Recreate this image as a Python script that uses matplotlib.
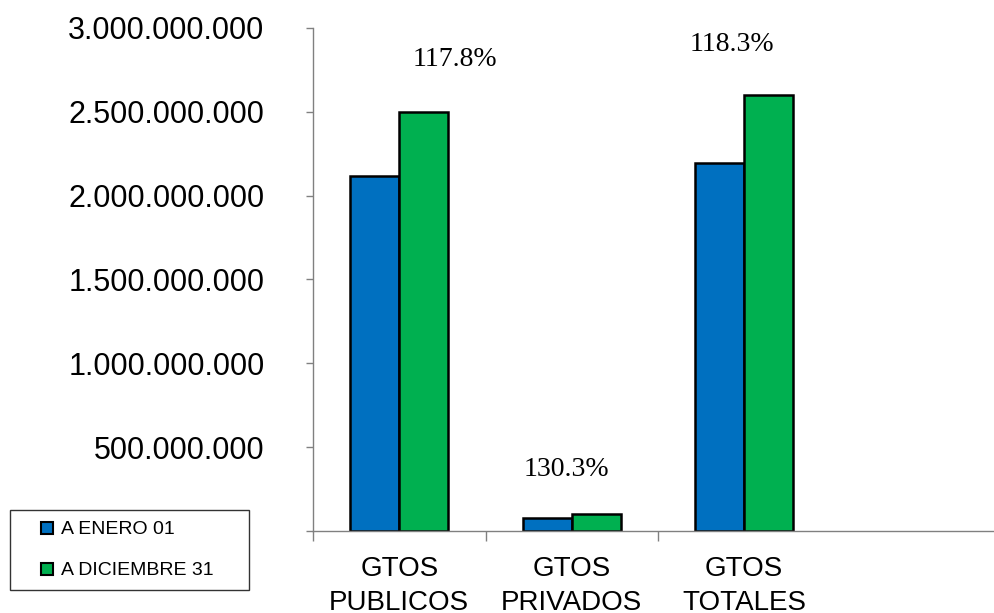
import matplotlib.pyplot as plt
from matplotlib.lines import Line2D
from matplotlib.ticker import FuncFormatter

categories = ["GTOS\nPUBLICOS", "GTOS\nPRIVADOS", "GTOS\nTOTALES"]
series_names = ["A ENERO 01", "A DICIEMBRE 31"]
enero = [2120000000, 76500000, 2196500000]
diciembre = [2498000000, 99700000, 2597700000]
pct_labels = ["117.8%", "130.3%", "118.3%"]
pct_pos = [(0.32, 2.81e9), (0.97, 0.364e9), (1.93, 2.90e9)]

colors = ["#0070C0", "#00B050"]

fig = plt.figure(figsize=(9.95, 6.13), dpi=100)
ax = fig.add_axes([0.3146, 0.1338, 0.6854, 0.8206])

w = 0.285
x = range(len(categories))
ax.bar([i - w / 2 for i in x], enero, w, color=colors[0], edgecolor="black", linewidth=1.8)
ax.bar([i + w / 2 for i in x], diciembre, w, color=colors[1], edgecolor="black", linewidth=1.8)

for txt, (px, py) in zip(pct_labels, pct_pos):
    ax.text(px, py, txt, ha="center", va="center", fontsize=20, family="Liberation Serif")

ax.set_xlim(-0.5, 3.454)
ax.set_ylim(0, 3e9)

# y axis
ax.set_yticks([0, 5e8, 1e9, 1.5e9, 2e9, 2.5e9, 3e9])
ax.yaxis.set_major_formatter(FuncFormatter(lambda v, p: "" if v == 0 else f"{int(v):,}".replace(",", ".")))
ax.tick_params(axis="y", length=5, width=1, color="#808080", pad=30, labelsize=22)
for lab in ax.get_yticklabels():
    lab.set_family("Liberation Sans")

# x axis: labels at centers, ticks at boundaries
ax.set_xticks(list(x))
ax.set_xticklabels(categories, fontsize=20, family="Liberation Sans", linespacing=1.4)
ax.tick_params(axis="x", which="major", length=0, pad=18)
ax.set_xticks([-0.5, 0.5, 1.5], minor=True)
ax.tick_params(axis="x", which="minor", length=7, width=1, color="#808080")

for s in ["top", "right"]:
    ax.spines[s].set_visible(False)
for s in ["left", "bottom"]:
    ax.spines[s].set_color("#808080")
    ax.spines[s].set_linewidth(1)

handles = [Line2D([], [], linestyle="none", marker="s", markersize=8, markerfacecolor=c,
                  markeredgecolor="black", markeredgewidth=1.5) for c in colors]
leg = fig.legend(handles, series_names, loc="lower left",
                 bbox_to_anchor=(0.01, 0.0375, 0.24, 0.139), mode="expand",
                 prop={"family": "Liberation Sans", "size": 14}, frameon=True,
                 fancybox=False, borderpad=0.55, labelspacing=1.2,
                 handlelength=2.7, handletextpad=-0.6, borderaxespad=0)
leg.get_frame().set_edgecolor("black")
leg.get_frame().set_linewidth(1)

fig.savefig("out.png", dpi=100)
